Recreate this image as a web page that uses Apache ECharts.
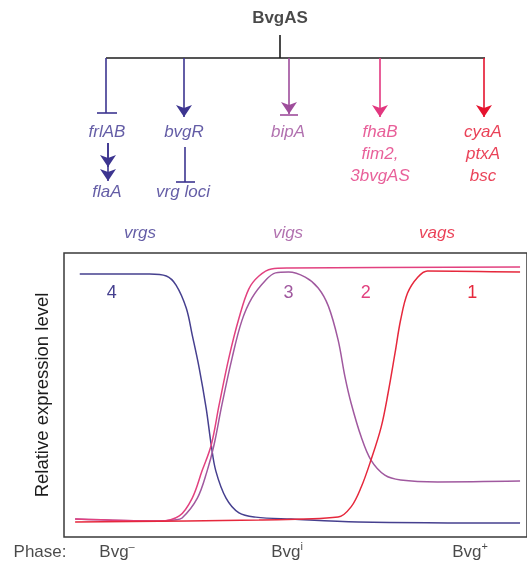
<!DOCTYPE html>
<html>
<head>
<meta charset="utf-8">
<script src="https://cdn.jsdelivr.net/npm/echarts@6/dist/echarts.min.js"></script>
<style>
  html, body { margin: 0; padding: 0; background: #fff; }
  #chart { width: 527px; height: 563px; }
</style>
</head>
<body>
<div id="chart"></div>
<script>
// Relative expression of the four gene classes across the Bvg phases.
// x: position along the phase continuum (0 = Bvg-, 100 = Bvg+), y: relative level (0-1)
const class4Vrg = [[3.4,0.926],[18.5,0.926],[22.1,0.919],[24.2,0.887],[26.4,0.806],[27.7,0.711],[29.2,0.595],[30.7,0.454],[31.8,0.324],[32.8,0.232],[35.0,0.137],[37.8,0.085],[41.4,0.070],[49.1,0.063],[63.5,0.053],[98.5,0.049]];
const class3Vig = [[2.4,0.063],[20.6,0.056],[23.8,0.060],[25.5,0.067],[28.8,0.137],[30.9,0.232],[32.4,0.324],[34.1,0.465],[36.3,0.630],[38.4,0.761],[40.6,0.842],[43.6,0.905],[45.7,0.930],[48.5,0.933],[52.1,0.915],[54.9,0.877],[57.1,0.813],[59.2,0.694],[60.7,0.563],[62.0,0.472],[64.2,0.352],[66.3,0.271],[69.3,0.218],[72.7,0.201],[80.7,0.194],[98.5,0.197]];
const class2Vag = [[2.4,0.063],[20.6,0.056],[24.9,0.074],[27.7,0.137],[29.8,0.232],[31.8,0.324],[33.5,0.465],[35.6,0.630],[37.8,0.771],[39.9,0.873],[42.1,0.919],[44.8,0.944],[48.5,0.947],[98.5,0.951]];
const class1Vag = [[2.4,0.053],[42.1,0.060],[59.2,0.070],[62.0,0.106],[64.2,0.176],[66.3,0.271],[68.5,0.387],[70.0,0.507],[71.5,0.648],[72.7,0.764],[74.2,0.859],[76.4,0.915],[78.5,0.937],[98.5,0.933]];

// Regulatory targets of BvgAS, grouped by branch
const regulator = 'BvgAS';
const repressedBranch = ['frlAB', 'flaA'];
const vrgBranch = ['bvgR', 'vrg loci'];
const vigBranch = ['bipA'];
const earlyVagGenes = ['fhaB', 'fim2,', '3bvgAS'];
const lateVagGenes = ['cyaA', 'ptxA', 'bsc'];
const geneClasses = ['vrgs', 'vigs', 'vags'];
const phaseNames = ['Bvg', 'Bvg', 'Bvg'];
const phaseMarks = ['\u2013', 'i', '+'];

const BLUE = '#3d3590', PURPLE = '#9e4d9b', PINK = '#e2377f', RED = '#e5132e', INK = '#1c1c1c';
const FONT = '"Liberation Sans", Arial, Helvetica, sans-serif';

// --- network diagram (drawn on an overlay grid whose units are layout units) ---
const plainLinks = [
  { coords: [[280, 35], [280, 58]], color: INK },
  { coords: [[106, 58], [485, 58]], color: INK },
  { coords: [[106, 58], [106, 113]], color: BLUE },
  { coords: [[97, 113], [117, 113]], color: BLUE },
  { coords: [[185, 147], [185, 182]], color: BLUE },
  { coords: [[176, 182], [195, 182]], color: BLUE },
  { coords: [[280, 115], [298, 115]], color: PURPLE }
];
const arrowLinks = [
  { coords: [[184, 58], [184, 117]], color: BLUE },
  { coords: [[108, 143], [108, 167]], color: BLUE },
  { coords: [[108, 143], [108, 181]], color: BLUE },
  { coords: [[289, 58], [289, 114]], color: PURPLE },
  { coords: [[380, 58], [380, 117]], color: PINK },
  { coords: [[484, 58], [484, 117]], color: RED }
];

function txt(x, y, text, color, extra) {
  return {
    value: [x, y],
    label: Object.assign({
      show: true, position: 'inside', formatter: text, color: color,
      fontFamily: FONT, fontSize: 17, fontStyle: 'italic', lineHeight: 22
    }, extra || {})
  };
}

const phaseRich = {
  b: { fontFamily: FONT, fontSize: 17, color: INK },
  s: { fontFamily: FONT, fontSize: 11, color: INK, verticalAlign: 'top', padding: [0, 0, 7, 0] }
};

const labels = [
  txt(280, 18, regulator, INK, { fontStyle: 'normal', fontWeight: 'bold' }),
  txt(107, 132, repressedBranch[0], BLUE),
  txt(107, 192, repressedBranch[1], BLUE),
  txt(184, 132, vrgBranch[0], BLUE),
  txt(183, 192, vrgBranch[1], BLUE),
  txt(288, 132, vigBranch[0], PURPLE),
  txt(380, 154, earlyVagGenes.join('\n'), PINK),
  txt(483, 154, lateVagGenes.join('\n'), RED),
  txt(140, 233, geneClasses[0], BLUE),
  txt(288, 233, geneClasses[1], PURPLE),
  txt(437, 233, geneClasses[2], RED),
  txt(40, 552, 'Phase:', INK, { fontStyle: 'normal' }),
  ...phaseNames.map((n, i) => txt([117, 287, 470][i], 552,
    '{b|' + n + '}{s|' + phaseMarks[i] + '}', INK, { fontStyle: 'normal', rich: phaseRich }))
];

function curve(name, data, color, tag, tagPos) {
  return {
    name: name, type: 'line', xAxisIndex: 0, yAxisIndex: 0,
    data: data, smooth: 0.35, showSymbol: false, silent: true,
    lineStyle: { color: color, width: 1.5 },
    markPoint: {
      symbol: 'circle', symbolSize: 1, silent: true,
      itemStyle: { color: 'transparent' },
      label: { show: true, position: 'inside', formatter: tag, color: color, fontFamily: FONT, fontSize: 18 },
      data: [{ coord: tagPos }]
    }
  };
}

const chart = echarts.init(document.getElementById('chart'), null, { renderer: 'canvas' });
chart.setOption({
  animation: false,
  backgroundColor: '#fff',
  grid: [
    { left: 64, top: 253, right: -3, bottom: 26, show: true, borderColor: '#3a3a3a', borderWidth: 1.5, backgroundColor: 'transparent' },
    { left: 0, top: 0, width: 527, height: 563, show: false }
  ],
  xAxis: [
    { type: 'value', gridIndex: 0, min: 0, max: 100, show: false },
    { type: 'value', gridIndex: 1, min: 0, max: 527, show: false }
  ],
  yAxis: [
    { type: 'value', gridIndex: 0, min: 0, max: 1,
      axisLine: { show: false }, axisTick: { show: false }, axisLabel: { show: false }, splitLine: { show: false },
      name: 'Relative expression level', nameLocation: 'middle', nameGap: 12,
      nameTextStyle: { fontFamily: FONT, fontSize: 18.5, color: INK } },
    { type: 'value', gridIndex: 1, min: 0, max: 563, inverse: true, show: false }
  ],
  series: [
    curve('4', class4Vrg, '#46408f', '4', [10.3, 0.859]),
    curve('3', class3Vig, '#a0599f', '3', [48.5, 0.859]),
    curve('2', class2Vag, '#e2417f', '2', [65.2, 0.859]),
    curve('1', class1Vag, '#e6283c', '1', [88.2, 0.859]),
    {
      type: 'lines', coordinateSystem: 'cartesian2d', xAxisIndex: 1, yAxisIndex: 1, silent: true,
      symbol: 'none', lineStyle: { width: 1.6, opacity: 1 },
      data: plainLinks.map(l => ({ coords: l.coords, lineStyle: { color: l.color } }))
    },
    {
      type: 'lines', coordinateSystem: 'cartesian2d', xAxisIndex: 1, yAxisIndex: 1, silent: true,
      symbol: ['none', 'arrow'], symbolSize: [7, 12], lineStyle: { width: 1.6, opacity: 1 },
      data: arrowLinks.map(l => ({ coords: l.coords, lineStyle: { color: l.color } }))
    },
    {
      type: 'scatter', xAxisIndex: 1, yAxisIndex: 1, silent: true,
      symbolSize: 1, itemStyle: { color: 'transparent' },
      data: labels
    }
  ]
});
</script>
</body>
</html>
